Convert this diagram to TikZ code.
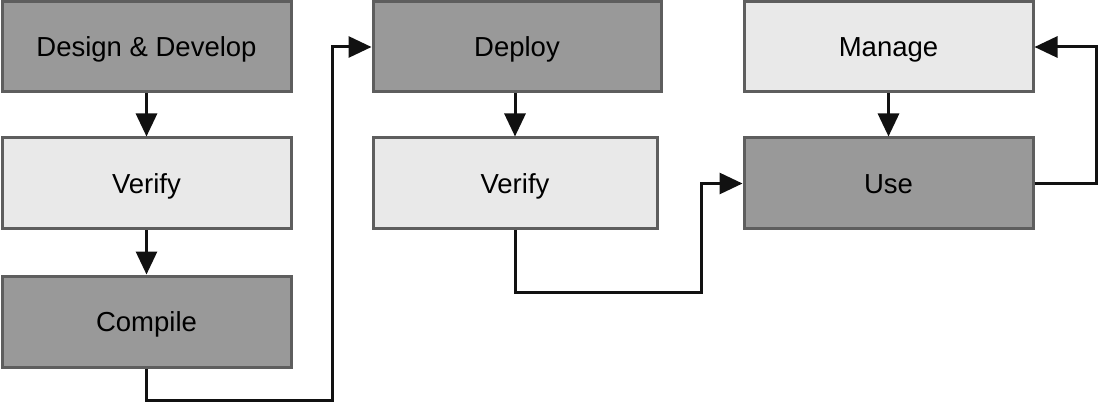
\documentclass[tikz,border=0pt]{standalone}
\usepackage{fontspec}
\setmainfont{Liberation Sans}
\usetikzlibrary{arrows.meta}
\definecolor{darkfill}{HTML}{999999}
\definecolor{lightfill}{HTML}{E9E9E9}
\definecolor{edge}{HTML}{5E5E5E}
\definecolor{conncol}{HTML}{111111}
\begin{document}
\begin{tikzpicture}[x=1pt,y=-1pt,
  box/.style={draw=edge,line width=3pt,rectangle,inner sep=0pt,minimum width=289pt,minimum height=90pt,
    font=\fontsize{27.5}{30}\selectfont,text=black,text height=19.7pt,text depth=0pt},
  darkbox/.style={box,fill=darkfill},
  lightbox/.style={box,fill=lightfill},
  conn/.style={draw=conncol,line width=3pt,-{Triangle[length=23pt,width=21pt]}}]
\useasboundingbox (0,0) rectangle (1099,403);
\node[darkbox] (dd) at (146.5,47) {Design \& Develop};
\node[lightbox,minimum height=91pt] (v1) at (146.5,183.5) {Verify};
\node[darkbox,minimum height=91pt] (comp) at (146.5,321.5) {Compile};
\node[darkbox,minimum width=288pt] (dep) at (517,47) {Deploy};
\node[lightbox,minimum width=284pt,minimum height=91pt] (v2) at (515,183.5) {Verify};
\node[lightbox] (man) at (888.5,47) {Manage};
\node[darkbox,minimum height=91pt] (use) at (888.5,183.5) {Use};
\coordinate (c1) at (332,400);
\coordinate (c2) at (701,292);
\coordinate (c3) at (1096,183.5);
\draw[conn] (dd.south) -- (v1.north);
\draw[conn] (v1.south) -- (comp.north);
\draw[conn] (comp.south) |- (c1) |- (dep.west);
\draw[conn] (dep.south -| v2.south) -- (v2.north);
\draw[conn] (v2.south) |- (c2) |- (use.west);
\draw[conn] (man.south) -- (use.north);
\draw[conn] (use.east) -- (c3) |- (man.east);
\end{tikzpicture}
\end{document}
